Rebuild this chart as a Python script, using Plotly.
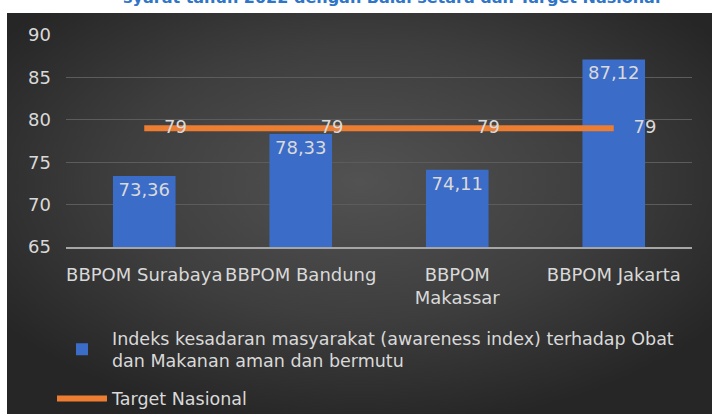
import base64
import plotly.graph_objects as go

categories = ["BBPOM Surabaya", "BBPOM Bandung", "BBPOM<br>Makassar", "BBPOM Jakarta"]
awareness = [73.36, 78.33, 74.11, 87.12]
target = [79, 79, 79, 79]
y_ticks = [65, 70, 75, 80, 85, 90]

bar_name = "Indeks kesadaran masyarakat (awareness index) terhadap Obat<br>dan Makanan aman dan bermutu"
line_name = "Target Nasional"
title_text = "syarat tahun 2022 dengan Balai setara dan Target Nasional"

def fmt(v):
    s = f"{v:.2f}" if abs(v - round(v)) > 1e-9 else f"{int(round(v))}"
    return s.replace(".", ",")

FONT = "DejaVu Sans"
LABEL = "#d9d9d9"

# background gradient (SVG data URI)
svg = (
    '<svg xmlns="http://www.w3.org/2000/svg" width="705" height="401">'
    '<defs><radialGradient id="g" cx="50%" cy="42%" r="62%">'
    '<stop offset="0" stop-color="#525252"/>'
    '<stop offset="0.55" stop-color="#3e3e3e"/>'
    '<stop offset="1" stop-color="#262626"/>'
    '</radialGradient></defs>'
    '<rect width="705" height="401" fill="url(#g)"/></svg>'
)
bg_uri = "data:image/svg+xml;base64," + base64.b64encode(svg.encode()).decode()

fig = go.Figure()
fig.add_trace(go.Bar(
    x=categories, y=awareness, name=bar_name, legendgroup="a",
    marker=dict(color="#3b6cc8", line=dict(width=0)),
    text=[fmt(v) for v in awareness],
    textposition="inside", insidetextanchor="end",
    textangle=0, constraintext="none",
    textfont=dict(family=FONT, size=18, color=LABEL),
))
fig.add_trace(go.Scatter(
    x=categories, y=target, name=line_name, legendgroup="b",
    mode="lines+markers+text",
    line=dict(color="#ED7D31", width=6),
    marker=dict(size=30, color="rgba(0,0,0,0)"),
    text=[fmt(v) for v in target],
    textposition="middle right",
    textfont=dict(family=FONT, size=18, color=LABEL),
    cliponaxis=False,
))

PW = 626
PH = 212
fig.update_layout(
    width=712, height=414,
    margin=dict(l=66, r=20, t=35, b=167, pad=0, autoexpand=False),
    paper_bgcolor="white",
    plot_bgcolor="rgba(0,0,0,0)",
    bargap=0.6,
    font=dict(family=FONT, size=18, color=LABEL),
    showlegend=True,
    legend=dict(
        orientation="v", x=(52 - 66) / PW, xanchor="left",
        y=(247 - 320) / PH, yanchor="top",
        font=dict(family=FONT, size=17.5, color=LABEL),
        bgcolor="rgba(0,0,0,0)", itemwidth=50, tracegroupgap=12,
        traceorder="grouped",
    ),
    images=[dict(
        source=bg_uri, xref="paper", yref="paper",
        x=(7 - 66) / PW, y=(247 - 13) / PH,
        sizex=705 / PW, sizey=401 / PH,
        xanchor="left", yanchor="top", sizing="stretch", layer="below",
    )],
    annotations=[dict(
        text="<b>" + title_text + "</b>", xref="paper", yref="paper",
        x=(391 - 66) / PW, y=1, xanchor="center", yanchor="bottom",
        yshift=35 - 9, showarrow=False,
        font=dict(family=FONT, size=16, color="#2F75C8"),
    )],
    xaxis=dict(
        showgrid=False, showline=True, linecolor="#a6a6a6", linewidth=2,
        ticks="", ticklabelstandoff=10,
        tickfont=dict(family=FONT, size=18, color=LABEL),
    ),
    yaxis=dict(
        range=[65, 90], tickvals=y_ticks, ticks="",
        showgrid=True, gridcolor="#5c5c5c", gridwidth=1,
        zeroline=False, showline=False, ticklabelstandoff=14,
        tickfont=dict(family=FONT, size=18, color=LABEL),
    ),
)

fig.write_html("out.html", config={"displayModeBar": False},
               post_script="document.body.style.margin='0';")
